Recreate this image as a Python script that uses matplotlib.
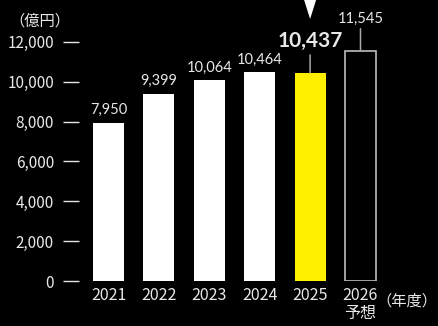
import matplotlib
matplotlib.use("Agg")
import matplotlib.pyplot as plt
from matplotlib.patches import Polygon

plt.rcParams['font.family'] = ['Noto Sans CJK JP', 'DejaVu Sans']

# data
years = ['2021', '2022', '2023', '2024', '2025', '2026\n予想']
sales = [7950, 9399, 10064, 10464, 10437, 11545]
highlight = 4      # 2025 (yellow)
forecast = 5       # 2026 outline bar
yticks = [0, 2000, 4000, 6000, 8000, 10000, 12000]

txt = '#e8e8e8'
yellow = '#fff000'

fig = plt.figure(figsize=(4.39, 3.26), dpi=100, facecolor='black')
W, H = 439, 326
ax = fig.add_axes([79 / W, 45 / H, (400 - 79) / W, 281 / H])
ax.set_facecolor('black')

px = 50.4  # pixels per bar slot
x = list(range(len(years)))
colors = ['white'] * len(years)
colors[highlight] = yellow
for i in x:
    if i == forecast:
        ax.bar(i, sales[i], width=0.615, facecolor='black', edgecolor='#bdbdbd', linewidth=1.2)
    else:
        ax.bar(i, sales[i], width=0.615, color=colors[i])

ax.set_xlim(-29.5 / px, (400 - 79 - 29.5) / px)
ax.set_ylim(0, 14100)

ax.set_yticks(yticks)
ax.set_yticklabels(['{:,}'.format(v) for v in yticks])
ax.set_xticks(x)
ax.set_xticklabels(years, linespacing=1.1)
ax.tick_params(axis='y', colors=txt, labelcolor=txt, length=11.5, width=1.0,
               pad=6.5, labelsize=11)
ax.tick_params(axis='x', length=0, pad=4, labelcolor=txt, labelsize=11.5)
for lbl in ax.get_xticklabels():
    lbl.set_verticalalignment('top')
for s in ax.spines.values():
    s.set_visible(False)

# value labels
for i in x:
    if i in (highlight, forecast):
        continue
    ax.annotate('{:,}'.format(sales[i]), (i, sales[i]), xytext=(0, 6),
                textcoords='offset points', ha='center', va='baseline',
                color=txt, fontsize=10.5, family='Lato')

# highlighted and forecast labels with leader lines
for i, size, weight, off, gap in [(highlight, 15, 'bold', 19, 6), (forecast, 10.5, 'normal', 20, 4)]:
    ax.annotate('{:,}'.format(sales[i]), (i, sales[i]), xytext=(0, off),
                textcoords='offset points', ha='center', va='baseline',
                color=txt, fontsize=size, fontweight=weight, family='Lato')
    ax.annotate('', (i, sales[i]), xytext=(0, off - gap), textcoords='offset points',
                arrowprops=dict(arrowstyle='-', color='#a8a8a8', lw=1.1,
                                shrinkA=0, shrinkB=0))

# marker triangle above the highlighted year
top = ax.get_ylim()[1]
hw = 6 / px
tri = Polygon([[highlight - hw, top], [highlight + hw, top],
               [highlight, top - 19 / 19.92 * 1000]], closed=True,
              facecolor='white', edgecolor='none', clip_on=False)
ax.add_patch(tri)

fig.text(40 / W, 1 - 21 / H, '（億円）', color=txt, fontsize=11, ha='center', va='center')
fig.text(437 / W, 1 - 301 / H, '（年度）', color=txt, fontsize=11, ha='right', va='center')

fig.savefig('out.png', dpi=100, facecolor='black')
